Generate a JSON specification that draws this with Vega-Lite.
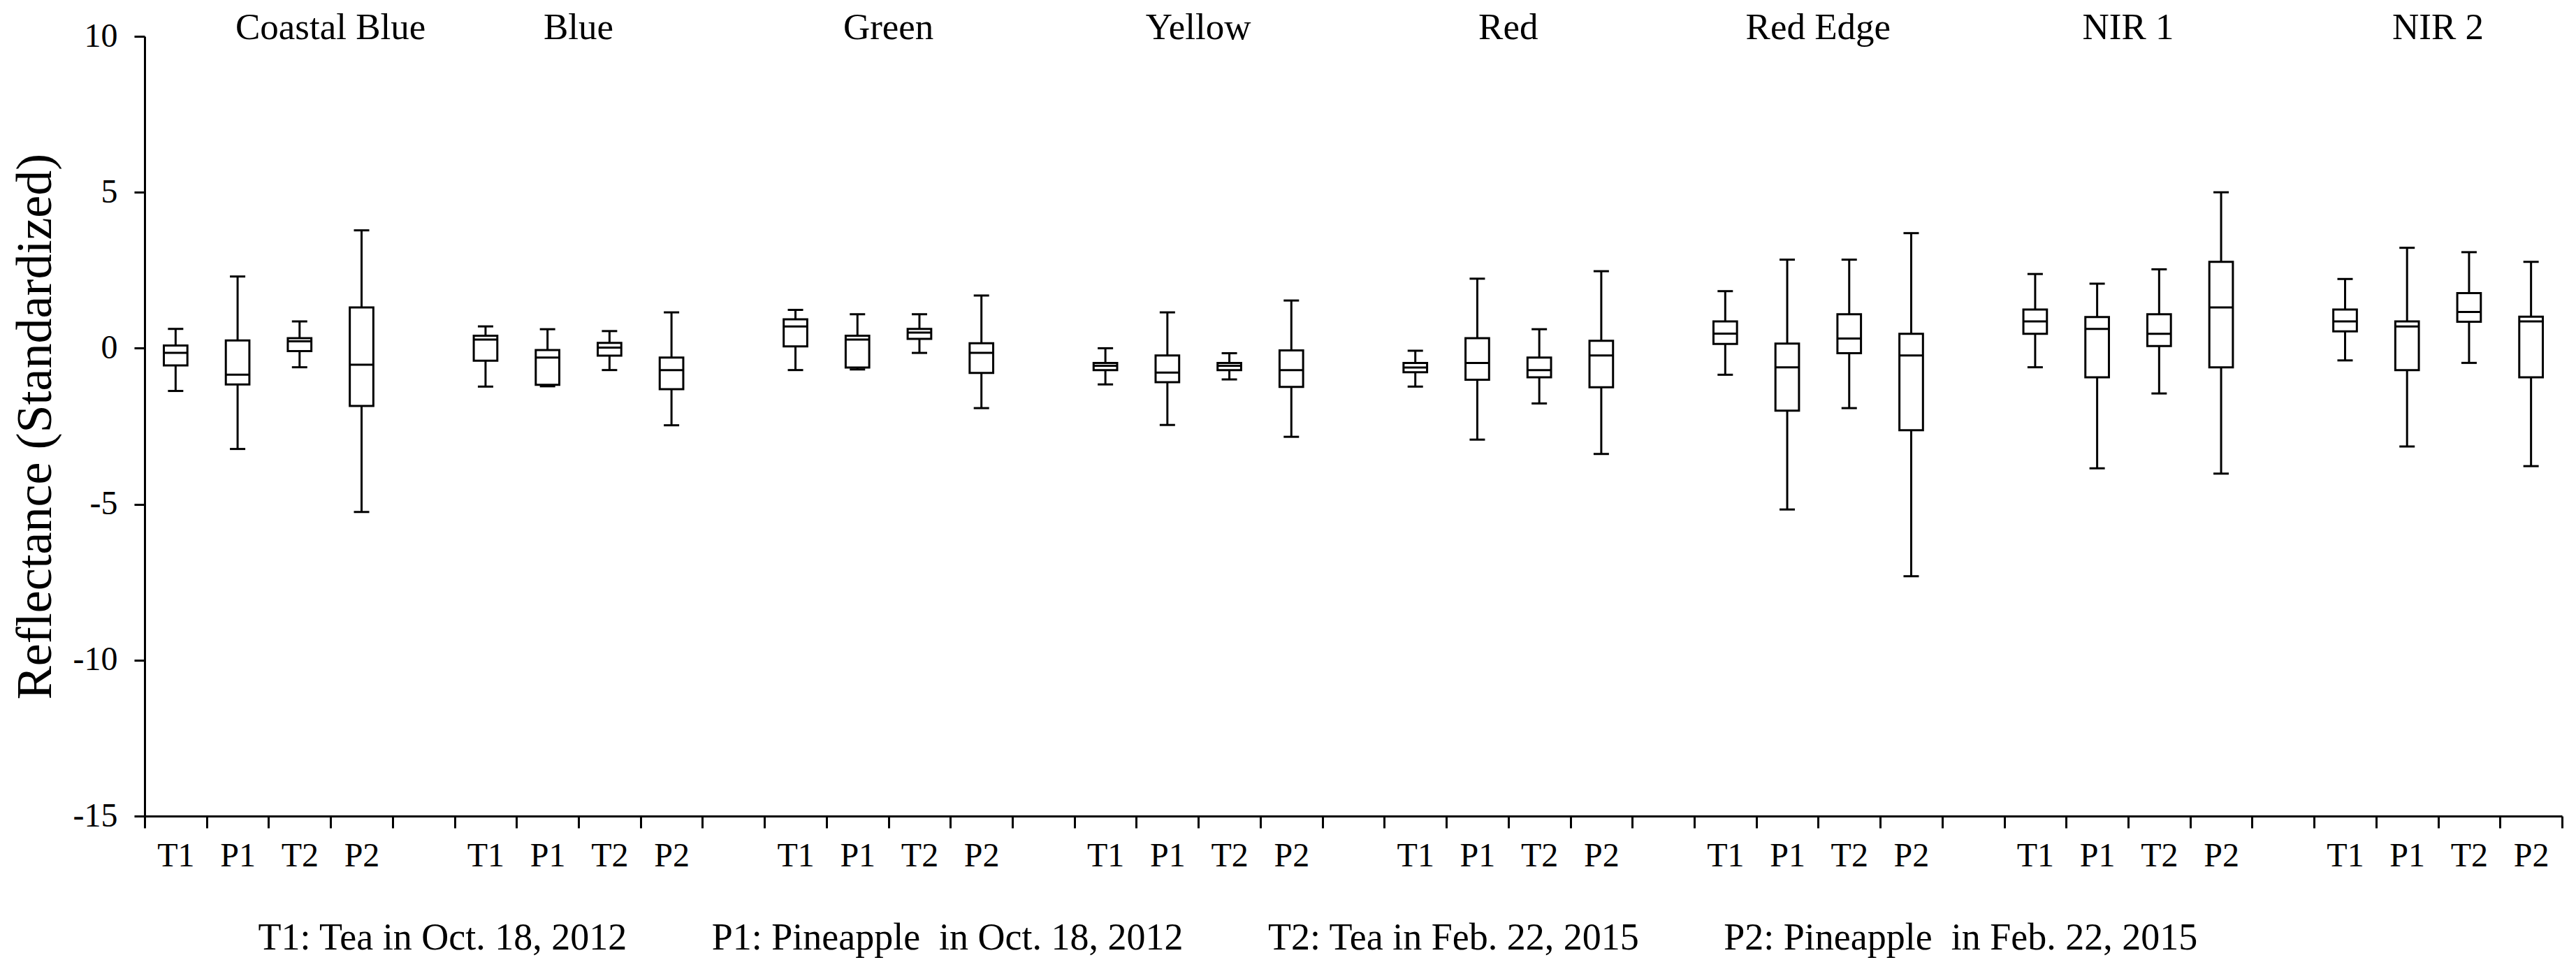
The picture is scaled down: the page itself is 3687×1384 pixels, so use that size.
{
  "$schema": "https://vega.github.io/schema/vega-lite/v6.json",
  "width": 3460,
  "height": 1116,
  "autosize": {"type": "none"},
  "padding": {"left": 207, "top": 52, "right": 20, "bottom": 216},
  "background": "white",
  "config": {
    "font": "Liberation Serif",
    "view": {"stroke": null},
    "text": {"font": "Liberation Serif"},
    "axis": {"grid": false, "domainColor": "black", "tickColor": "black", "labelColor": "black", "titleColor": "black", "labelFont": "Liberation Serif", "titleFont": "Liberation Serif"}
  },
  "datasets": {
    "boxes": [
      {"band": "Coastal Blue", "group": "T1", "key": "Coastal Blue|T1", "lo": -1.37, "q1": -0.55, "med": -0.15, "q3": 0.09, "hi": 0.62},
      {"band": "Coastal Blue", "group": "P1", "key": "Coastal Blue|P1", "lo": -3.23, "q1": -1.16, "med": -0.85, "q3": 0.25, "hi": 2.30},
      {"band": "Coastal Blue", "group": "T2", "key": "Coastal Blue|T2", "lo": -0.61, "q1": -0.09, "med": 0.22, "q3": 0.32, "hi": 0.86},
      {"band": "Coastal Blue", "group": "P2", "key": "Coastal Blue|P2", "lo": -5.25, "q1": -1.85, "med": -0.53, "q3": 1.31, "hi": 3.78},
      {"band": "Blue", "group": "T1", "key": "Blue|T1", "lo": -1.23, "q1": -0.40, "med": 0.28, "q3": 0.40, "hi": 0.70},
      {"band": "Blue", "group": "P1", "key": "Blue|P1", "lo": -1.22, "q1": -1.17, "med": -0.30, "q3": -0.06, "hi": 0.61},
      {"band": "Blue", "group": "T2", "key": "Blue|T2", "lo": -0.70, "q1": -0.24, "med": 0.02, "q3": 0.17, "hi": 0.55},
      {"band": "Blue", "group": "P2", "key": "Blue|P2", "lo": -2.47, "q1": -1.31, "med": -0.70, "q3": -0.30, "hi": 1.15},
      {"band": "Green", "group": "T1", "key": "Green|T1", "lo": -0.70, "q1": 0.06, "med": 0.70, "q3": 0.93, "hi": 1.23},
      {"band": "Green", "group": "P1", "key": "Green|P1", "lo": -0.68, "q1": -0.62, "med": 0.28, "q3": 0.40, "hi": 1.09},
      {"band": "Green", "group": "T2", "key": "Green|T2", "lo": -0.15, "q1": 0.30, "med": 0.50, "q3": 0.62, "hi": 1.09},
      {"band": "Green", "group": "P2", "key": "Green|P2", "lo": -1.92, "q1": -0.79, "med": -0.15, "q3": 0.16, "hi": 1.69},
      {"band": "Yellow", "group": "T1", "key": "Yellow|T1", "lo": -1.16, "q1": -0.70, "med": -0.56, "q3": -0.47, "hi": 0.00},
      {"band": "Yellow", "group": "P1", "key": "Yellow|P1", "lo": -2.46, "q1": -1.09, "med": -0.78, "q3": -0.23, "hi": 1.15},
      {"band": "Yellow", "group": "T2", "key": "Yellow|T2", "lo": -1.00, "q1": -0.70, "med": -0.56, "q3": -0.47, "hi": -0.16},
      {"band": "Yellow", "group": "P2", "key": "Yellow|P2", "lo": -2.84, "q1": -1.24, "med": -0.70, "q3": -0.07, "hi": 1.53},
      {"band": "Red", "group": "T1", "key": "Red|T1", "lo": -1.23, "q1": -0.77, "med": -0.62, "q3": -0.47, "hi": -0.08},
      {"band": "Red", "group": "P1", "key": "Red|P1", "lo": -2.93, "q1": -1.01, "med": -0.47, "q3": 0.32, "hi": 2.23},
      {"band": "Red", "group": "T2", "key": "Red|T2", "lo": -1.77, "q1": -0.93, "med": -0.70, "q3": -0.30, "hi": 0.61},
      {"band": "Red", "group": "P2", "key": "Red|P2", "lo": -3.39, "q1": -1.25, "med": -0.23, "q3": 0.24, "hi": 2.47},
      {"band": "Red Edge", "group": "T1", "key": "Red Edge|T1", "lo": -0.85, "q1": 0.14, "med": 0.47, "q3": 0.86, "hi": 1.83},
      {"band": "Red Edge", "group": "P1", "key": "Red Edge|P1", "lo": -5.17, "q1": -2.00, "med": -0.61, "q3": 0.15, "hi": 2.84},
      {"band": "Red Edge", "group": "T2", "key": "Red Edge|T2", "lo": -1.92, "q1": -0.16, "med": 0.31, "q3": 1.09, "hi": 2.84},
      {"band": "Red Edge", "group": "P2", "key": "Red Edge|P2", "lo": -7.31, "q1": -2.63, "med": -0.23, "q3": 0.46, "hi": 3.69},
      {"band": "NIR 1", "group": "T1", "key": "NIR 1|T1", "lo": -0.61, "q1": 0.46, "med": 0.86, "q3": 1.24, "hi": 2.38},
      {"band": "NIR 1", "group": "P1", "key": "NIR 1|P1", "lo": -3.85, "q1": -0.93, "med": 0.62, "q3": 1.00, "hi": 2.07},
      {"band": "NIR 1", "group": "T2", "key": "NIR 1|T2", "lo": -1.45, "q1": 0.07, "med": 0.46, "q3": 1.09, "hi": 2.53},
      {"band": "NIR 1", "group": "P2", "key": "NIR 1|P2", "lo": -4.02, "q1": -0.61, "med": 1.31, "q3": 2.77, "hi": 5.00},
      {"band": "NIR 2", "group": "T1", "key": "NIR 2|T1", "lo": -0.39, "q1": 0.54, "med": 0.86, "q3": 1.24, "hi": 2.22},
      {"band": "NIR 2", "group": "P1", "key": "NIR 2|P1", "lo": -3.15, "q1": -0.70, "med": 0.70, "q3": 0.86, "hi": 3.22},
      {"band": "NIR 2", "group": "T2", "key": "NIR 2|T2", "lo": -0.47, "q1": 0.85, "med": 1.16, "q3": 1.77, "hi": 3.08},
      {"band": "NIR 2", "group": "P2", "key": "NIR 2|P2", "lo": -3.78, "q1": -0.93, "med": 0.86, "q3": 1.01, "hi": 2.77}
    ],
    "titles": [
      {"title": "Coastal Blue", "key": "Coastal Blue|T2"},
      {"title": "Blue", "key": "Blue|P1"},
      {"title": "Green", "key": "Green|P1"},
      {"title": "Yellow", "key": "Yellow|P1"},
      {"title": "Red", "key": "Red|P1"},
      {"title": "Red Edge", "key": "Red Edge|P1"},
      {"title": "NIR 1", "key": "NIR 1|P1"},
      {"title": "NIR 2", "key": "NIR 2|P1"}
    ]
  },
  "layer": [
    {
      "data": {"name": "boxes"},
      "mark": {"type": "rule", "color": "black", "strokeWidth": 3},
      "encoding": {
        "x": {
          "field": "key", "type": "nominal",
          "scale": {"domain": ["Coastal Blue|T1","Coastal Blue|P1","Coastal Blue|T2","Coastal Blue|P2","Coastal Blue|","Blue|T1","Blue|P1","Blue|T2","Blue|P2","Blue|","Green|T1","Green|P1","Green|T2","Green|P2","Green|","Yellow|T1","Yellow|P1","Yellow|T2","Yellow|P2","Yellow|","Red|T1","Red|P1","Red|T2","Red|P2","Red|","Red Edge|T1","Red Edge|P1","Red Edge|T2","Red Edge|P2","Red Edge|","NIR 1|T1","NIR 1|P1","NIR 1|T2","NIR 1|P2","NIR 1|","NIR 2|T1","NIR 2|P1","NIR 2|T2","NIR 2|P2"], "paddingInner": 0, "paddingOuter": 0},
          "axis": {
            "title": "T1: Tea in Oct. 18, 2012\u00a0\u00a0\u00a0\u00a0\u00a0\u00a0\u00a0\u00a0\u00a0P1: Pineapple\u00a0\u00a0in Oct. 18, 2012\u00a0\u00a0\u00a0\u00a0\u00a0\u00a0\u00a0\u00a0\u00a0T2: Tea in Feb. 22, 2015\u00a0\u00a0\u00a0\u00a0\u00a0\u00a0\u00a0\u00a0\u00a0P2: Pineapple\u00a0\u00a0in Feb. 22, 2015",
            "titleFont": "Liberation Serif", "labelFont": "Liberation Serif",
            "titleFontSize": 54, "titleFontWeight": "normal", "titleAlign": "left", "titleAnchor": "start",
            "titleX": 162, "titleY": 190, "titleBaseline": "alphabetic",
            "labelExpr": "split(datum.label, '|')[1]", "labelAngle": 0, "labelFontSize": 48, "labelPadding": 16,
            "labelOverlap": false, "labelBound": false,
            "tickSize": 17, "tickWidth": 3, "domainWidth": 3, "tickBand": "extent"
          }
        },
        "y": {
          "field": "lo", "type": "quantitative", "title": "Reflectance (Standardized)",
          "scale": {"domain": [-15, 10], "nice": false, "zero": false},
          "axis": {
            "values": [-15, -10, -5, 0, 5, 10], "labelExpr": "'' + datum.value",
            "titleFont": "Liberation Serif", "labelFont": "Liberation Serif",
            "titleFontSize": 72, "titleFontWeight": "normal", "titleAngle": -90,
            "titleX": -135, "titleY": 558, "titleBaseline": "alphabetic", "titleAlign": "center",
            "labelFontSize": 48, "labelPadding": 24, "tickSize": 15, "tickWidth": 3, "domainWidth": 3
          }
        },
        "y2": {"field": "hi"}
      }
    },
    {
      "data": {"name": "boxes"},
      "mark": {"type": "bar", "fill": "white", "stroke": "black", "strokeWidth": 3, "width": {"band": 0.38}},
      "encoding": {
        "x": {"field": "key", "type": "nominal"},
        "y": {"field": "q1", "type": "quantitative", "title": "Reflectance (Standardized)"},
        "y2": {"field": "q3"}
      }
    },
    {
      "data": {"name": "boxes"},
      "mark": {"type": "tick", "color": "black", "size": 34, "thickness": 3, "opacity": 1},
      "encoding": {
        "x": {"field": "key", "type": "nominal"},
        "y": {"field": "med", "type": "quantitative", "title": "Reflectance (Standardized)"}
      }
    },
    {
      "data": {"name": "boxes"},
      "mark": {"type": "tick", "color": "black", "size": 22, "thickness": 3, "opacity": 1},
      "encoding": {
        "x": {"field": "key", "type": "nominal"},
        "y": {"field": "lo", "type": "quantitative", "title": "Reflectance (Standardized)"}
      }
    },
    {
      "data": {"name": "boxes"},
      "mark": {"type": "tick", "color": "black", "size": 22, "thickness": 3, "opacity": 1},
      "encoding": {
        "x": {"field": "key", "type": "nominal"},
        "y": {"field": "hi", "type": "quantitative", "title": "Reflectance (Standardized)"}
      }
    },
    {
      "data": {"name": "titles"},
      "mark": {"type": "text", "font": "Liberation Serif", "fontSize": 53, "color": "black", "baseline": "alphabetic", "align": "center", "dy": 4},
      "encoding": {
        "x": {"field": "key", "type": "nominal", "bandPosition": 1},
        "y": {"datum": 10, "type": "quantitative"},
        "text": {"field": "title"}
      }
    }
  ]
}
